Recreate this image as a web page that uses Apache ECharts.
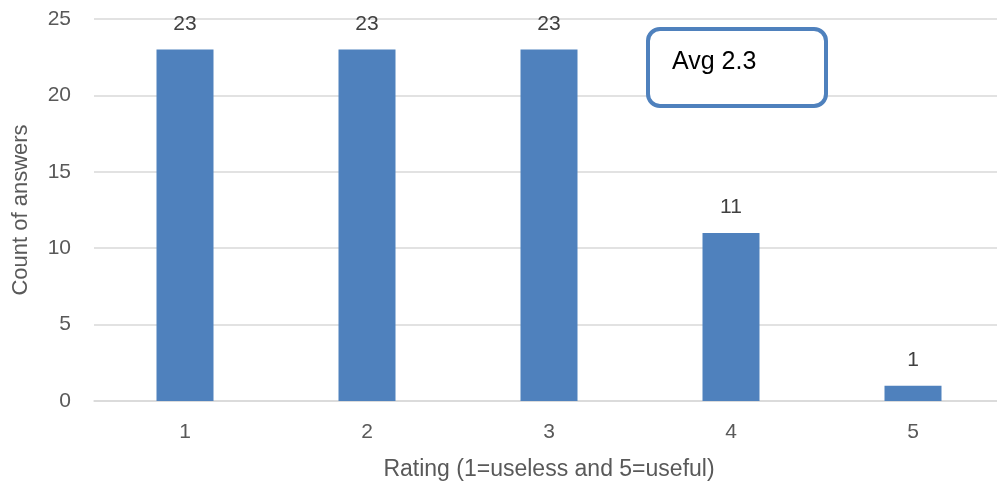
<!DOCTYPE html>
<html>
<head>
<meta charset="utf-8">
<script src="https://cdn.jsdelivr.net/npm/echarts@6/dist/echarts.min.js"></script>
<style>
  html, body { margin: 0; padding: 0; background: #fff; overflow: hidden; }
  /* the plot area runs a few pixels past the right edge of the window */
  #chart { width: 1004px; height: 486px; }
</style>
</head>
<body>
<div id="chart"></div>
<script>
// Ratings and how many answers each one got
const ratings = ['1', '2', '3', '4', '5'];
const answerCounts = [23, 23, 23, 11, 1];
const yTicks = [0, 5, 10, 15, 20, 25];
const averageText = 'Avg 2.3';

const FONT = '"Liberation Sans", Arial, sans-serif';
const AXIS_GREY = '#595959';

const chart = echarts.init(document.getElementById('chart'));
chart.setOption({
  animation: false,
  textStyle: { fontFamily: FONT },
  grid: { left: 94, right: 0, top: 19, bottom: 85 },
  xAxis: {
    type: 'category',
    data: ratings,
    name: 'Rating (1=useless and 5=useful)',
    nameLocation: 'middle',
    nameGap: 57,
    nameTextStyle: { fontFamily: FONT, fontSize: 23, color: AXIS_GREY },
    axisLine: { lineStyle: { color: '#d9d9d9', width: 1.5 } },
    axisTick: { show: false },
    axisLabel: { fontFamily: FONT, fontSize: 21, color: AXIS_GREY, margin: 21 }
  },
  yAxis: {
    type: 'value',
    min: yTicks[0],
    max: yTicks[yTicks.length - 1],
    interval: 5,
    name: 'Count of answers',
    nameLocation: 'middle',
    nameGap: 62,
    nameTextStyle: { fontFamily: FONT, fontSize: 22, color: AXIS_GREY },
    axisLine: { show: false },
    axisTick: { show: false },
    axisLabel: { fontFamily: FONT, fontSize: 21, color: AXIS_GREY, margin: 23 },
    splitLine: { lineStyle: { color: '#d9d9d9', width: 1.5 } }
  },
  series: [{
    type: 'bar',
    data: answerCounts,
    barWidth: 57,
    itemStyle: { color: '#4f81bd' },
    label: {
      show: true,
      position: 'top',
      distance: 15,
      fontFamily: FONT,
      fontSize: 21,
      color: '#404040'
    }
  }],
  graphic: [{
    type: 'rect',
    shape: { x: 648, y: 29, width: 178, height: 77, r: 12 },
    style: { fill: '#fff', stroke: '#4f81bd', lineWidth: 4 },
    z: 100
  }, {
    type: 'text',
    x: 672,
    y: 62,
    z: 101,
    style: {
      text: averageText,
      font: '25px ' + FONT,
      fill: '#000',
      verticalAlign: 'middle'
    }
  }]
});
</script>
</body>
</html>
